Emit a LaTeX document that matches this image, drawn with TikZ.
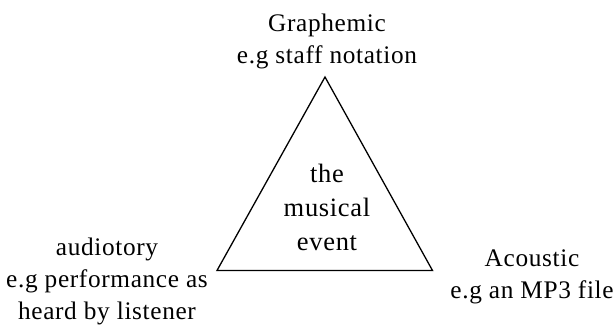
\documentclass[tikz,border=0pt]{standalone}
\usepackage{fontspec}
\setmainfont{Liberation Serif}[LetterSpace=2.6]
\begin{document}
\begin{tikzpicture}[x=1pt,y=-1pt,
  lbl/.style={align=center,inner sep=0pt,font=\fontsize{25.3}{32}\selectfont},
  ctr/.style={align=center,inner sep=0pt,font=\fontsize{26.5}{34}\selectfont},
  tri/.style={draw=black,line width=1.3pt,line join=miter}]
\useasboundingbox (0,0) rectangle (614,325);
\coordinate (apex) at (325,77);
\coordinate (bl) at (217,270.5);
\coordinate (br) at (432.5,270.5);
\draw[tri] (apex) -- (bl) -- (br) -- cycle;
\node[ctr] (center) at (327,207.5) {the\\musical\\event};
\node[lbl] (graph) at (327,41.5) {Graphemic\\e.g staff notation};
\node[lbl] (aud) at (107,281.5) {audiotory\\e.g performance as\\heard by listener};
\node[lbl] (ac) at (532,277) {Acoustic\\e.g an MP3 file};
\end{tikzpicture}
\end{document}
